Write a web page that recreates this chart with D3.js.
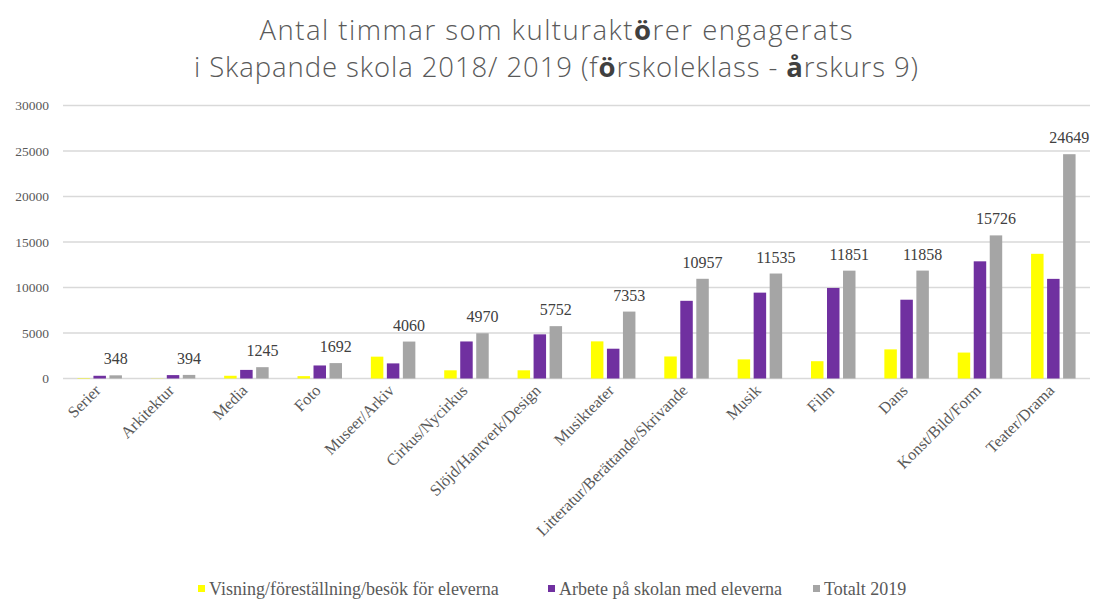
<!DOCTYPE html>
<html>
<head>
<meta charset="utf-8">
<script src="https://cdn.jsdelivr.net/npm/d3@7"></script>
<style>
  body { margin: 0; background: #fff; }
  svg { display: block; }
  .title { font-family: "Open Sans", Roboto, sans-serif; font-weight: 300; fill: #595959; }
  .title .b { font-weight: 700; fill: #404040; }
  .tick-y { font-family: "Liberation Serif", "DejaVu Serif", serif; font-size: 13.5px; fill: #595959; }
  .tick-x { font-family: "Liberation Serif", "DejaVu Serif", serif; font-size: 16.2px; fill: #595959; }
  .dlabel { font-family: "Liberation Serif", "DejaVu Serif", serif; font-size: 16px; fill: #404040; }
  .legend { font-family: "Liberation Serif", "DejaVu Serif", serif; font-size: 18px; fill: #595959; }
</style>
</head>
<body>
<div id="chart"></div>
<script>
// Timmar per kulturområde, Skapande skola 2018/2019
const categories = ["Serier", "Arkitektur", "Media", "Foto", "Museer/Arkiv", "Cirkus/Nycirkus",
  "Slöjd/Hantverk/Design", "Musikteater", "Litteratur/Berättande/Skrivande", "Musik", "Film",
  "Dans", "Konst/Bild/Form", "Teater/Drama"];
const visning = [48, 20, 300, 260, 2400, 900, 900, 4080, 2420, 2100, 1900, 3200, 2850, 13700];
const arbete = [300, 374, 945, 1432, 1660, 4070, 4852, 3273, 8537, 9435, 9951, 8658, 12876, 10949];
const totalt = [348, 394, 1245, 1692, 4060, 4970, 5752, 7353, 10957, 11535, 11851, 11858, 15726, 24649];
const seriesNames = ["Visning/föreställning/besök för eleverna", "Arbete på skolan med eleverna", "Totalt 2019"];
const seriesColors = ["#FFFF00", "#7030A0", "#A5A5A5"];
const yTicks = [0, 5000, 10000, 15000, 20000, 25000, 30000];

const width = 1093, height = 601;
const m = { top: 105.5, right: 3, bottom: 222.5, left: 63 };
const iW = width - m.left - m.right, iH = height - m.top - m.bottom;

const svg = d3.select("#chart").append("svg").attr("width", width).attr("height", height);

// title, with the bold ö / å the original has
const titleLines = [
  [["Antal timmar som kulturakt", 0], ["ö", 1], ["rer engagerats", 0]],
  [["i Skapande skola 2018/ 2019 (f", 0], ["ö", 1], ["rskoleklass - ", 0], ["å", 1], ["rskurs 9)", 0]],
];
const titleWidths = [593, 724];
titleLines.forEach((parts, li) => {
  const t = svg.append("text").attr("class", "title").attr("text-anchor", "middle")
    .attr("x", 556).attr("y", 40 + li * 37).style("font-size", "27.5px")
    .attr("textLength", titleWidths[li]).attr("lengthAdjust", "spacing");
  parts.forEach(([s, b]) => t.append("tspan").attr("class", b ? "b" : null).text(s));
});

const g = svg.append("g").attr("transform", `translate(${m.left},${m.top})`);

const x0 = d3.scaleBand(categories, [0, iW]);
const keys = [0, 1, 2];
const x1 = d3.scaleBand(keys, [0, 44.5]).paddingInner(0.22);
const off = (x0.bandwidth() - 44.5) / 2;
const y = d3.scaleLinear([0, 30000], [iH, 0]);

// gridlines
g.append("g").selectAll("line").data(yTicks).join("line")
  .attr("x1", 0).attr("x2", iW).attr("y1", (d) => y(d)).attr("y2", (d) => y(d))
  .attr("stroke", "#d9d9d9").attr("stroke-width", 1.3);

g.append("g").selectAll("text").data(yTicks).join("text").attr("class", "tick-y")
  .attr("x", -14).attr("y", (d) => y(d)).attr("dy", "0.35em").attr("text-anchor", "end")
  .text((d) => d);

const seriesVals = [visning, arbete, totalt];
categories.forEach((c, i) => {
  keys.forEach((k) => {
    const v = seriesVals[k][i];
    g.append("rect")
      .attr("x", x0(c) + off + x1(k)).attr("width", x1.bandwidth())
      .attr("y", y(v)).attr("height", y(0) - y(v))
      .attr("fill", seriesColors[k]);
  });
  g.append("text").attr("class", "dlabel").attr("text-anchor", "middle")
    .attr("x", x0(c) + off + x1(2) + x1.bandwidth() / 2)
    .attr("y", y(totalt[i]) - 11)
    .text(totalt[i]);
});

// rotated category labels
g.append("g").selectAll("text").data(categories).join("text").attr("class", "tick-x")
  .attr("text-anchor", "end")
  .attr("transform", (d) => `translate(${x0(d) + x0.bandwidth() / 2 + 2},${iH + 13}) rotate(-45)`)
  .text((d) => d);

// legend
const legendX = [198, 548, 813];
const lg = svg.append("g");
seriesNames.forEach((name, k) => {
  lg.append("rect").attr("x", legendX[k]).attr("y", 585).attr("width", 7).attr("height", 7).attr("fill", seriesColors[k]);
  lg.append("text").attr("class", "legend").attr("x", legendX[k] + 11).attr("y", 595).text(name);
});
</script>
</body>
</html>
